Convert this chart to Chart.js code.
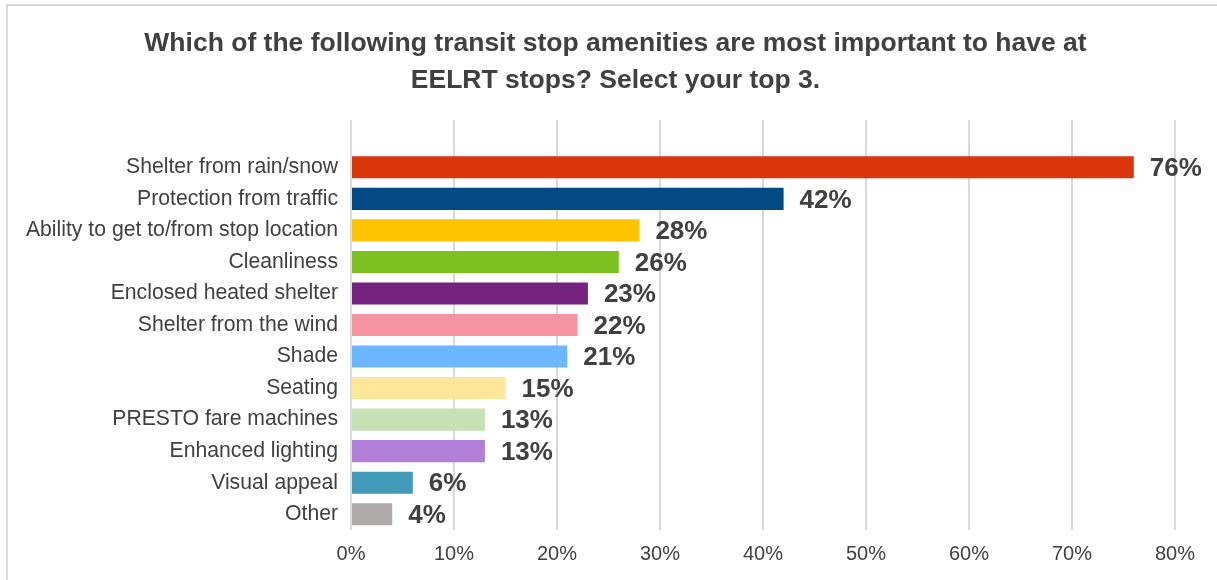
<!DOCTYPE html>
<html>
<head>
<meta charset="utf-8">
<script src="https://cdn.jsdelivr.net/npm/chart.js@4"></script>
<style>
    html, body { margin: 0; padding: 0; background: #fff; }
    #wrap { width: 1217px; height: 580px; position: relative; }
</style>
</head>
<body>
<div id="wrap"><canvas id="amenityChart" width="1217" height="580"></canvas></div>
<script>
// first row left blank so the grid runs up above the top bar
var amenities = ["", "Shelter from rain/snow", "Protection from traffic", "Ability to get to/from stop location",
    "Cleanliness", "Enclosed heated shelter", "Shelter from the wind", "Shade", "Seating",
    "PRESTO fare machines", "Enhanced lighting", "Visual appeal", "Other"];
var percents = [null, 76, 42, 28, 26, 23, 22, 21, 15, 13, 13, 6, 4];
var barColors = ["rgba(0,0,0,0)", "#da350b", "#034983", "#ffc400", "#7cc11f", "#76237f", "#f693a3",
    "#6cb5ff", "#ffe699", "#c6e1b4", "#b27fd8", "#4299b8", "#afaaa9"];
var xTicks = [0, 10, 20, 30, 40, 50, 60, 70, 80];
var titleLines = ["Which of the following transit stop amenities are most important to have at",
    "EELRT stops? Select your top 3."];

var textColor = "#404040";
var fontName = "'Liberation Sans', Arial, sans-serif";

var framePlugin = {
    id: 'frame',
    beforeDraw: function (chart) {
        var ctx = chart.ctx;
        ctx.save();
        ctx.strokeStyle = "#d9d9d9";
        ctx.lineWidth = 2;
        ctx.strokeRect(7, 5, 1300, 700);
        ctx.fillStyle = textColor;
        ctx.font = "bold 26.5px " + fontName;
        ctx.textAlign = "center";
        ctx.textBaseline = "alphabetic";
        ctx.fillText(titleLines[0], 615.5, 50.5);
        ctx.fillText(titleLines[1], 615.5, 88);
        ctx.restore();
    }
};

var valueLabels = {
    id: 'valueLabels',
    afterDatasetsDraw: function (chart) {
        var ctx = chart.ctx;
        var meta = chart.getDatasetMeta(0);
        ctx.save();
        ctx.fillStyle = textColor;
        ctx.font = "bold 26px " + fontName;
        ctx.textAlign = "left";
        ctx.textBaseline = "middle";
        meta.data.forEach(function (bar, i) {
            if (percents[i] === null) return;
            ctx.fillText(percents[i] + "%", bar.x + 16, bar.y + 1.5);
        });
        ctx.restore();
    }
};

var amenityChart = new Chart(document.getElementById("amenityChart"), {
    type: 'bar',
    data: {
        labels: amenities,
        datasets: [{
            data: percents,
            backgroundColor: barColors,
            borderWidth: 0,
            barPercentage: 0.7,
            categoryPercentage: 1.0
        }]
    },
    options: {
        indexAxis: 'y',
        responsive: false,
        animation: false,
        layout: { padding: { top: 120, right: 42, left: 0, bottom: 0 } },
        plugins: {
            legend: { display: false },
            title: { display: false },
            tooltip: { enabled: false }
        },
        scales: {
            x: {
                min: 0,
                max: 80,
                afterBuildTicks: function (scale) {
                    scale.ticks = xTicks.map(function (v) { return { value: v }; });
                },
                afterFit: function (scale) { scale.height = 50; },
                grid: { color: "#d9d9d9", lineWidth: 2, drawTicks: false },
                border: { display: false },
                ticks: {
                    padding: 12,
                    color: textColor,
                    font: { family: fontName, size: 20 },
                    callback: function (v) { return v + "%"; }
                }
            },
            y: {
                afterFit: function (scale) { scale.width = 351; },
                grid: { display: false, drawTicks: false },
                border: { display: false },
                ticks: {
                    padding: 13,
                    color: textColor,
                    autoSkip: false,
                    font: { family: fontName, size: 21.2 }
                }
            }
        }
    },
    plugins: [framePlugin, valueLabels]
});
</script>
</body>
</html>
